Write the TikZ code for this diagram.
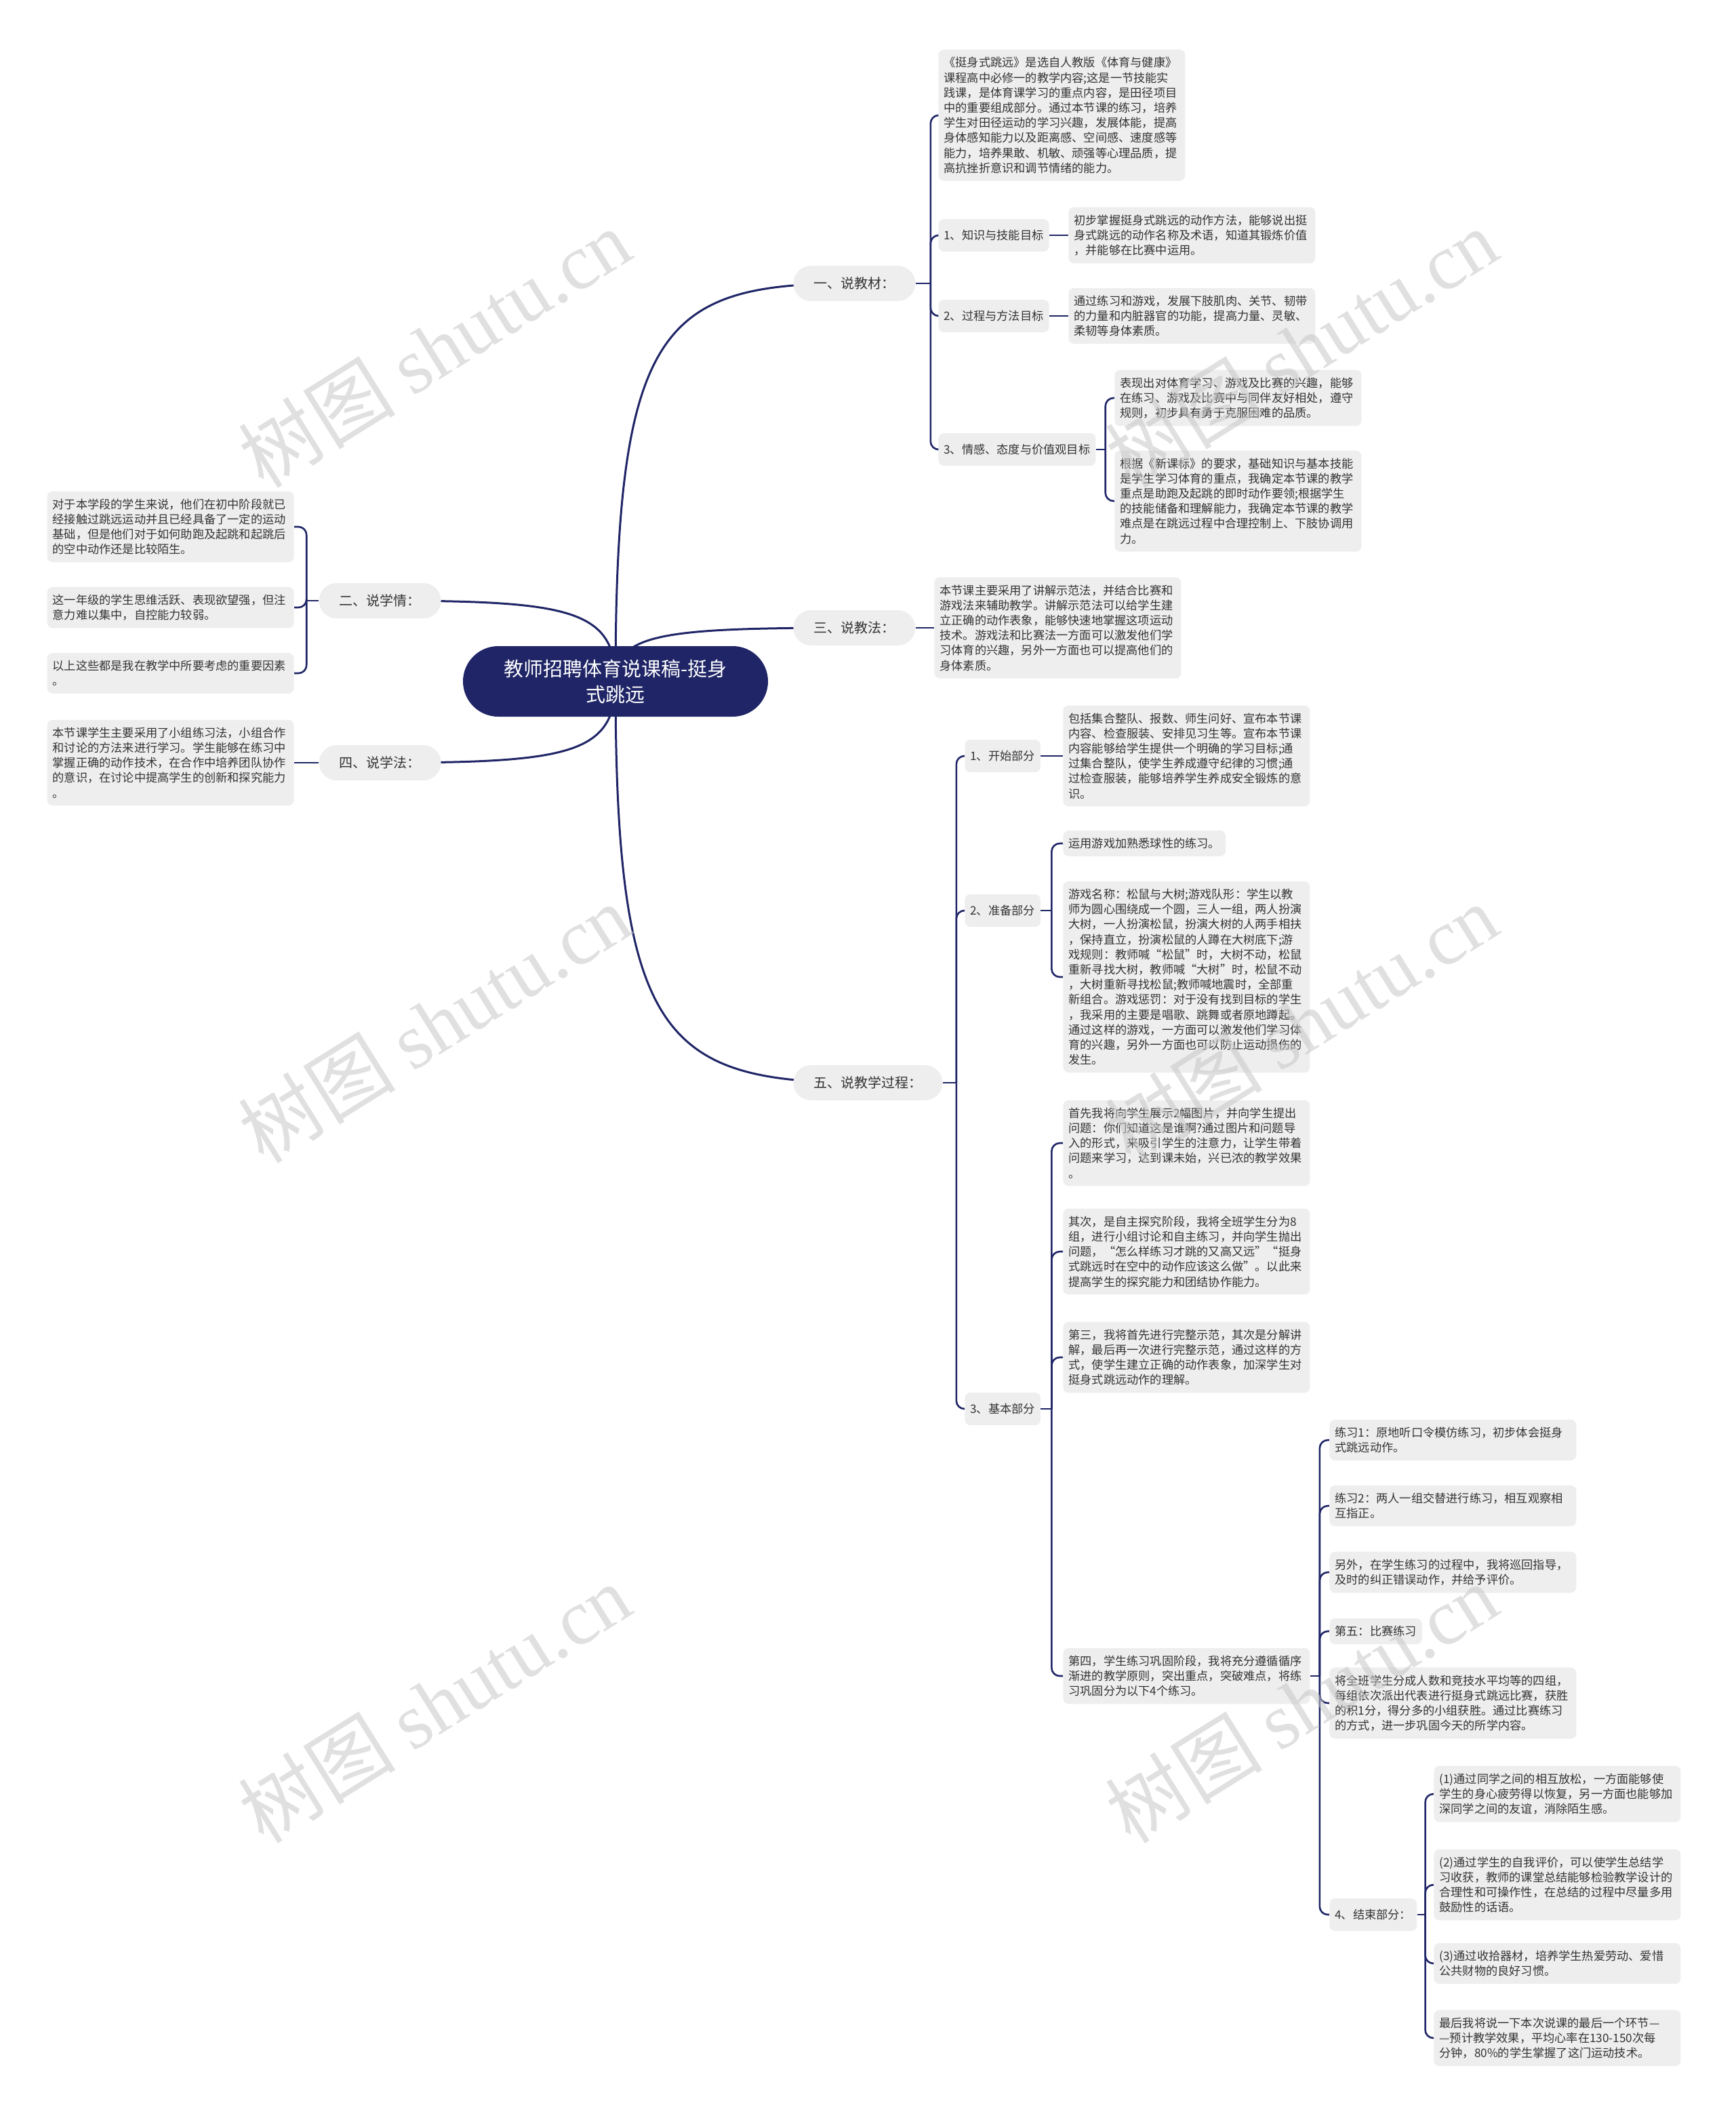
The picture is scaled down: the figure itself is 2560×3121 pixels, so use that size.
\documentclass[tikz,border=0pt]{standalone}
\usepackage{fontspec}
\setmainfont{Noto Sans CJK SC}
\newfontfamily\wmserif{Liberation Serif}
\usepackage{tikz}
\usetikzlibrary{positioning,backgrounds,calc}
\definecolor{mapnavy}{HTML}{1F2566}
\definecolor{boxgray}{HTML}{EEEEEE}
\definecolor{inkgray}{HTML}{333333}
\newcommand\notefont{\fontsize{8.6pt}{11.1pt}\selectfont}
\newcommand\topicfont{\fontsize{10pt}{12pt}\selectfont}
\newcommand\rootfont{\fontsize{14.5pt}{19pt}\selectfont}

\begin{document}
\begin{tikzpicture}[
    x=0.5pt, y=-0.5pt,
    rootbox/.style={fill=mapnavy, text=white, rounded corners=26pt, minimum width=225pt, minimum height=52pt, align=center, font=\rootfont},
    topicbox/.style={fill=boxgray, text=inkgray, rounded corners=13pt, minimum height=26pt, inner xsep=15pt, font=\topicfont},
    subbox/.style={fill=boxgray, text=inkgray, rounded corners=4pt, minimum height=24pt, inner xsep=4pt, font=\notefont},
    notebox/.style={fill=boxgray, text=inkgray, rounded corners=4pt, text width=174pt, inner xsep=4pt, inner ysep=5.5pt, align=left, font=\notefont},
    onebox/.style={fill=boxgray, text=inkgray, rounded corners=4pt, inner xsep=4pt, inner ysep=5.5pt, font=\notefont},
    rootline/.style={draw=mapnavy, line width=1.5pt},
    branchline/.style={draw=mapnavy, line width=1.3pt, rounded corners=6pt},
    wmark/.style={text=gray!45, opacity=0.55, rotate=32, font=\fontsize{58pt}{58pt}\selectfont},
]
    \useasboundingbox (0,0) rectangle (2560,3121);

    % centre
    \node[rootbox] (root) at (908,1005) {教师招聘体育说课稿-挺身\\式跳远};

    % first level
    \node[topicbox, anchor=west] (k1) at (1170,418) {一、说教材：};
    \node[topicbox, anchor=east] (k2) at (651,886) {二、说学情：};
    \node[topicbox, anchor=west] (k3) at (1170,926) {三、说教法：};
    \node[topicbox, anchor=east] (k4) at (651,1125) {四、说学法：};
    \node[topicbox, anchor=west] (k5) at (1170,1597) {五、说教学过程：};

    % 说教材
    \node[notebox, anchor=west] (a0) at (1384,170) {《挺身式跳远》是选自人教版《体育与健康》\\课程高中必修一的教学内容;这是一节技能实\\践课，是体育课学习的重点内容，是田径项目\\中的重要组成部分。通过本节课的练习，培养\\学生对田径运动的学习兴趣，发展体能，提高\\身体感知能力以及距离感、空间感、速度感等\\能力，培养果敢、机敏、顽强等心理品质，提\\高抗挫折意识和调节情绪的能力。};
    \node[subbox, anchor=west] (a1) at (1384,347) {1、知识与技能目标};
    \node[notebox, anchor=west] (a1t) at (1576,347) {初步掌握挺身式跳远的动作方法，能够说出挺\\身式跳远的动作名称及术语，知道其锻炼价值\\，并能够在比赛中运用。};
    \node[subbox, anchor=west] (a2) at (1384,466) {2、过程与方法目标};
    \node[notebox, anchor=west] (a2t) at (1576,466) {通过练习和游戏，发展下肢肌肉、关节、韧带\\的力量和内脏器官的功能，提高力量、灵敏、\\柔韧等身体素质。};
    \node[subbox, anchor=west] (a3) at (1384,663) {3、情感、态度与价值观目标};
    \node[notebox, anchor=west] (a3a) at (1644,587) {表现出对体育学习、游戏及比赛的兴趣，能够\\在练习、游戏及比赛中与同伴友好相处，遵守\\规则，初步具有勇于克服困难的品质。};
    \node[notebox, anchor=west] (a3b) at (1644,739) {根据《新课标》的要求，基础知识与基本技能\\是学生学习体育的重点，我确定本节课的教学\\重点是助跑及起跳的即时动作要领;根据学生\\的技能储备和理解能力，我确定本节课的教学\\难点是在跳远过程中合理控制上、下肢协调用\\力。};

    % 说学情
    \node[notebox, anchor=east] (l1) at (434,777) {对于本学段的学生来说，他们在初中阶段就已\\经接触过跳远运动并且已经具备了一定的运动\\基础，但是他们对于如何助跑及起跳和起跳后\\的空中动作还是比较陌生。};
    \node[notebox, anchor=east] (l2) at (434,896) {这一年级的学生思维活跃、表现欲望强，但注\\意力难以集中，自控能力较弱。};
    \node[notebox, anchor=east] (l3) at (434,993) {以上这些都是我在教学中所要考虑的重要因素\\。};

    % 说教法 / 说学法
    \node[notebox, anchor=west] (c1) at (1378,926) {本节课主要采用了讲解示范法，并结合比赛和\\游戏法来辅助教学。讲解示范法可以给学生建\\立正确的动作表象，能够快速地掌握这项运动\\技术。游戏法和比赛法一方面可以激发他们学\\习体育的兴趣，另外一方面也可以提高他们的\\身体素质。};
    \node[notebox, anchor=east] (l4) at (434,1125) {本节课学生主要采用了小组练习法，小组合作\\和讨论的方法来进行学习。学生能够在练习中\\掌握正确的动作技术，在合作中培养团队协作\\的意识，在讨论中提高学生的创新和探究能力\\。};

    % 说教学过程
    \node[subbox, anchor=west] (d1) at (1423,1115) {1、开始部分};
    \node[notebox, anchor=west] (d1t) at (1568,1115) {包括集合整队、报数、师生问好、宣布本节课\\内容、检查服装、安排见习生等。宣布本节课\\内容能够给学生提供一个明确的学习目标;通\\过集合整队，使学生养成遵守纪律的习惯;通\\过检查服装，能够培养学生养成安全锻炼的意\\识。};
    \node[subbox, anchor=west] (d2) at (1423,1343) {2、准备部分};
    \node[onebox, anchor=west] (d2a) at (1568,1244) {运用游戏加熟悉球性的练习。};
    \node[notebox, anchor=west] (d2b) at (1568,1441) {游戏名称：松鼠与大树;游戏队形：学生以教\\师为圆心围绕成一个圆，三人一组，两人扮演\\大树，一人扮演松鼠，扮演大树的人两手相扶\\，保持直立，扮演松鼠的人蹲在大树底下;游\\戏规则：教师喊“松鼠”时，大树不动，松鼠\\重新寻找大树，教师喊“大树”时，松鼠不动\\，大树重新寻找松鼠;教师喊地震时，全部重\\新组合。游戏惩罚：对于没有找到目标的学生\\，我采用的主要是唱歌、跳舞或者原地蹲起。\\通过这样的游戏，一方面可以激发他们学习体\\育的兴趣，另外一方面也可以防止运动损伤的\\发生。};
    \node[subbox, anchor=west] (d3) at (1423,2078) {3、基本部分};
    \node[notebox, anchor=west] (d3a) at (1568,1686) {首先我将向学生展示2幅图片，并向学生提出\\问题：你们知道这是谁啊?通过图片和问题导\\入的形式，来吸引学生的注意力，让学生带着\\问题来学习，达到课未始，兴已浓的教学效果\\。};
    \node[notebox, anchor=west] (d3b) at (1568,1846) {其次，是自主探究阶段，我将全班学生分为8\\组，进行小组讨论和自主练习，并向学生抛出\\问题，“怎么样练习才跳的又高又远”“挺身\\式跳远时在空中的动作应该这么做”。以此来\\提高学生的探究能力和团结协作能力。};
    \node[notebox, anchor=west] (d3c) at (1568,2002) {第三，我将首先进行完整示范，其次是分解讲\\解，最后再一次进行完整示范，通过这样的方\\式，使学生建立正确的动作表象，加深学生对\\挺身式跳远动作的理解。};
    \node[notebox, anchor=west] (d3d) at (1568,2472) {第四，学生练习巩固阶段，我将充分遵循循序\\渐进的教学原则，突出重点，突破难点，将练\\习巩固分为以下4个练习。};

    \node[notebox, anchor=west] (g1) at (1961,2124) {练习1：原地听口令模仿练习，初步体会挺身\\式跳远动作。};
    \node[notebox, anchor=west] (g2) at (1961,2221) {练习2：两人一组交替进行练习，相互观察相\\互指正。};
    \node[notebox, anchor=west] (g3) at (1961,2319) {另外，在学生练习的过程中，我将巡回指导，\\及时的纠正错误动作，并给予评价。};
    \node[onebox, anchor=west] (g4) at (1961,2406) {第五：比赛练习};
    \node[notebox, anchor=west] (g5) at (1961,2512) {将全班学生分成人数和竞技水平均等的四组，\\每组依次派出代表进行挺身式跳远比赛，获胜\\的积1分，得分多的小组获胜。通过比赛练习\\的方式，进一步巩固今天的所学内容。};
    \node[subbox, anchor=west] (g6) at (1961,2824) {4、结束部分：};

    \node[notebox, anchor=west] (h1) at (2115,2646) {(1)通过同学之间的相互放松，一方面能够使\\学生的身心疲劳得以恢复，另一方面也能够加\\深同学之间的友谊，消除陌生感。};
    \node[notebox, anchor=west] (h2) at (2115,2780) {(2)通过学生的自我评价，可以使学生总结学\\习收获，教师的课堂总结能够检验教学设计的\\合理性和可操作性，在总结的过程中尽量多用\\鼓励性的话语。};
    \node[notebox, anchor=west] (h3) at (2115,2896) {(3)通过收拾器材，培养学生热爱劳动、爱惜\\公共财物的良好习惯。};
    \node[notebox, anchor=west] (h4) at (2115,3006) {最后我将说一下本次说课的最后一个环节—\\—预计教学效果，平均心率在130-150次每\\分钟，80\%的学生掌握了这门运动技术。};

    % connectors
    \begin{scope}[on background layer]
        \foreach \k in {k1,k2,k3,k4,k5}
            \draw[rootline] (root.center) .. controls ($(root.center)!0.9!(root.center |- \k.center)$) and ($(root.center |- \k.center)!0.2!(\k.center)$) .. (\k.center);

        \draw[branchline] (k1.east) -- ++(22,0) coordinate (j1);
        \foreach \c in {a0,a1,a2,a3}
            \draw[branchline] (j1) |- (\c.west);
        \draw[branchline] (a1.east) -- (a1t.west);
        \draw[branchline] (a2.east) -- (a2t.west);
        \draw[branchline] (a3.east) -- ++(14,0) coordinate (j10);
        \foreach \c in {a3a,a3b}
            \draw[branchline] (j10) |- (\c.west);

        \draw[branchline] (k2.west) -- ++(-18,0) coordinate (j2);
        \foreach \c in {l1,l2,l3}
            \draw[branchline] (j2) |- (\c.east);

        \draw[branchline] (k3.east) -- (c1.west);
        \draw[branchline] (k4.west) -- (l4.east);

        \draw[branchline] (k5.east) -- ++(20,0) coordinate (j5);
        \foreach \c in {d1,d2,d3}
            \draw[branchline] (j5) |- (\c.west);
        \draw[branchline] (d1.east) -- (d1t.west);
        \draw[branchline] (d2.east) -- ++(16,0) coordinate (j6);
        \foreach \c in {d2a,d2b}
            \draw[branchline] (j6) |- (\c.west);
        \draw[branchline] (d3.east) -- ++(16,0) coordinate (j7);
        \foreach \c in {d3a,d3b,d3c,d3d}
            \draw[branchline] (j7) |- (\c.west);
        \draw[branchline] (d3d.east) -- ++(14,0) coordinate (j8);
        \foreach \c in {g1,g2,g3,g4,g5,g6}
            \draw[branchline] (j8) |- (\c.west);
        \draw[branchline] (g6.east) -- ++(12,0) coordinate (j9);
        \foreach \c in {h1,h2,h3,h4}
            \draw[branchline] (j9) |- (\c.west);
    \end{scope}

    % watermarks
    \foreach \wx/\wy [count=\i] in {641/513, 1920/513, 641/1509, 1920/1509, 641/2512, 1920/2512}
        \node[wmark] (wm\i) at (\wx,\wy) {树图 {\wmserif shutu.cn}};
\end{tikzpicture}
\end{document}
